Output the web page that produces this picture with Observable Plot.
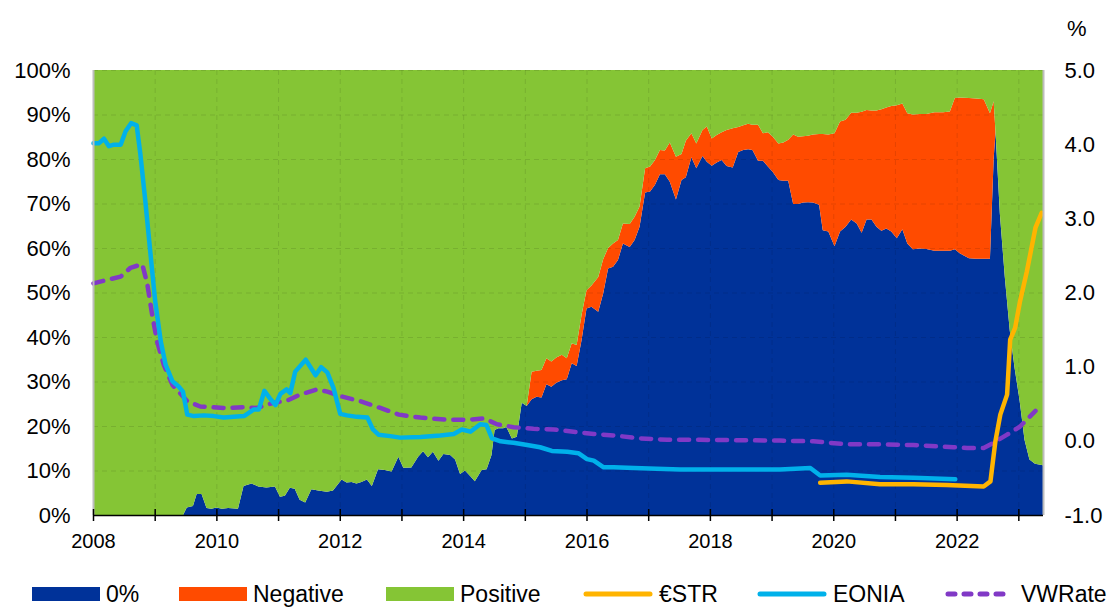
<!DOCTYPE html>
<html>
<head>
<meta charset="utf-8">
<script src="https://cdn.jsdelivr.net/npm/d3@7"></script>
<script src="https://cdn.jsdelivr.net/npm/@observablehq/plot@0.6"></script>
<style>
  html, body { margin: 0; padding: 0; background: #fff; }
  body { width: 1111px; height: 608px; overflow: hidden; position: relative; font-family: "Liberation Sans", Arial, sans-serif; }
  #chart { position: absolute; left: 0; top: 0; }
  #unit { position: absolute; left: 1067px; top: 16px; font-size: 22px; color: #000; }
  #legend { position: absolute; left: 0; top: 580px; width: 1111px; height: 28px; }
  .item { position: absolute; top: 0; height: 28px; display: flex; align-items: center; font-size: 23px; line-height: 26px; color: #000; white-space: nowrap; }
  .item svg { margin-right: 6px; }
</style>
</head>
<body>
<div id="chart"></div>
<div id="unit">%</div>
<div id="legend"></div>
<script>
// ---- Shares of transactions by rate sign (%), x as decimal year ----
const shareDates = [2008.00,2009.46,2009.52,2009.62,2009.68,2009.76,2009.84,2009.92,2010.00,2010.09,2010.19,2010.35,2010.44,2010.57,2010.68,2010.81,2010.95,2011.03,2011.11,2011.19,2011.27,2011.35,2011.44,2011.54,2011.65,2011.79,2011.89,2012.03,2012.11,2012.19,2012.27,2012.35,2012.44,2012.52,2012.62,2012.73,2012.84,2012.95,2013.03,2013.16,2013.27,2013.35,2013.43,2013.51,2013.60,2013.68,2013.79,2013.87,2013.95,2014.03,2014.11,2014.19,2014.30,2014.38,2014.46,2014.51,2014.57,2014.65,2014.70,2014.79,2014.87,2014.95,2015.03,2015.11,2015.19,2015.27,2015.35,2015.43,2015.51,2015.60,2015.68,2015.76,2015.84,2015.92,2016.00,2016.08,2016.19,2016.27,2016.35,2016.43,2016.51,2016.59,2016.70,2016.78,2016.86,2016.95,2017.03,2017.11,2017.19,2017.27,2017.35,2017.45,2017.54,2017.61,2017.70,2017.78,2017.88,2017.95,2018.03,2018.11,2018.19,2018.27,2018.37,2018.46,2018.54,2018.62,2018.69,2018.78,2018.86,2018.94,2019.02,2019.11,2019.19,2019.27,2019.35,2019.43,2019.51,2019.59,2019.67,2019.77,2019.83,2019.92,2020.02,2020.11,2020.20,2020.29,2020.38,2020.46,2020.54,2020.62,2020.70,2020.78,2020.86,2020.94,2021.03,2021.12,2021.20,2021.29,2021.40,2021.51,2021.64,2021.78,2021.89,2021.97,2022.05,2022.20,2022.32,2022.44,2022.54,2022.60,2022.63,2022.70,2022.78,2022.86,2022.94,2023.02,2023.10,2023.18,2023.27,2023.40];
const zeroShare = [0,0,1.7,2.0,4.7,4.7,1.6,1.4,1.7,1.4,1.6,1.4,6.5,7.1,6.4,6.2,6.4,4.1,4.3,6.1,5.9,3.4,2.8,5.8,5.5,5.2,5.5,8.0,7.3,7.4,7.1,7.4,8.0,6.5,10.3,10.1,9.8,13.1,10.6,10.7,13.1,14.3,13.0,14.2,12.2,13.7,13.5,12.5,9.2,10.0,8.8,7.6,10.1,10.3,13.5,19.1,19.5,19.5,19.8,17.2,17.6,25.2,24.5,26.0,26.6,26.4,29.4,28.8,29.7,30.3,30.5,34.1,33.5,39.3,46.4,46.8,45.7,49.8,55.4,55.8,57.3,61.0,60.2,61.8,64.8,72.5,72.7,74.2,76.6,76.6,74.9,70.9,75.3,75.9,80.4,77.9,80.7,79.4,78.5,79.2,79.8,78.4,78.1,81.6,82.0,82.2,82.0,79.6,79.6,78.3,77.1,75.3,75.1,75.1,69.9,69.9,70.2,70.3,70.2,69.7,64.0,63.7,60.4,63.7,64.8,66.4,65.5,63.4,66.4,66.4,64.8,63.9,64.4,63.7,62.2,64.2,61.0,59.7,59.9,59.8,59.4,59.4,59.4,59.7,58.8,57.7,57.6,57.6,57.6,80.0,86.1,67.8,53.6,41.6,33.0,25.8,16.9,12.5,11.5,11.2];
const negativeShare = [0,0,0,0,0,0,0,0,0,0,0,0,0,0,0,0,0,0,0,0,0,0,0,0,0,0,0,0,0,0,0,0,0,0,0,0,0,0,0,0,0,0,0,0,0,0,0,0,0,0,0,0,0,0,0,0,0,0,0,0,0,0,0,6.2,5.8,6.2,5.8,5.7,5.7,5.7,4.7,4.5,4.7,5.7,4.1,4.8,7.8,7.7,4.6,5.2,4.5,4.5,5.2,5.2,4.5,5.4,5.6,5.6,5.4,5.3,8.8,9.6,5.8,8.2,5.4,5.6,5.8,7.9,6.1,6.2,6.2,8.1,8.8,5.6,5.6,5.7,5.7,8.1,6.2,7.7,7.9,8.2,8.6,9.2,15.6,15.1,14.9,14.9,15.3,15.9,21.6,21.8,25.4,24.7,24.0,24.0,24.9,27.2,24.6,24.5,26.1,27.3,27.2,28.2,29.9,28.3,29.3,30.3,30.2,30.3,31.1,31.1,31.3,34.0,35.0,36.0,36.0,35.8,32.7,13.0,0,0,0,0,0,0,0,0,0,0];

// ---- Rates (%) ----
const eoniaDates = [2008.00,2008.09,2008.17,2008.25,2008.33,2008.44,2008.52,2008.61,2008.70,2008.76,2008.84,2008.92,2009.00,2009.09,2009.17,2009.28,2009.38,2009.45,2009.52,2009.63,2009.79,2009.95,2010.11,2010.27,2010.44,2010.60,2010.68,2010.77,2010.86,2010.95,2011.03,2011.13,2011.19,2011.27,2011.44,2011.60,2011.69,2011.79,2011.89,2012.00,2012.11,2012.27,2012.44,2012.53,2012.62,2012.81,2012.97,2013.30,2013.62,2013.84,2013.97,2014.11,2014.27,2014.37,2014.46,2014.60,2014.81,2015.03,2015.24,2015.43,2015.68,2015.86,2016.00,2016.11,2016.27,2016.43,2016.76,2017.13,2017.51,2019.13,2019.62,2019.78,2020.21,2020.75,2021.29,2021.97];
const eoniaRate = [4.02,4.02,4.08,3.98,4.00,4.00,4.18,4.29,4.26,3.87,3.24,2.56,1.89,1.35,1.03,0.81,0.74,0.67,0.36,0.34,0.35,0.34,0.32,0.33,0.34,0.43,0.43,0.68,0.58,0.49,0.64,0.70,0.65,0.94,1.10,0.89,1.00,0.93,0.72,0.37,0.35,0.33,0.32,0.16,0.09,0.07,0.05,0.06,0.08,0.10,0.16,0.13,0.23,0.22,0.04,0.00,-0.02,-0.05,-0.08,-0.13,-0.14,-0.16,-0.24,-0.26,-0.35,-0.35,-0.36,-0.37,-0.38,-0.38,-0.36,-0.46,-0.45,-0.48,-0.49,-0.51];
const estrDates = [2019.78,2020.21,2020.75,2021.29,2021.83,2022.43,2022.54,2022.62,2022.70,2022.81,2022.86,2022.94,2023.02,2023.13,2023.27,2023.37];
const estrRate = [-0.56,-0.54,-0.58,-0.58,-0.59,-0.61,-0.54,0.00,0.36,0.63,1.37,1.53,1.89,2.29,2.88,3.08];
const vwDates = [2008.00,2008.19,2008.44,2008.60,2008.79,2008.87,2008.95,2009.03,2009.14,2009.28,2009.38,2009.52,2009.73,2010.11,2010.44,2010.65,2010.92,2011.14,2011.35,2011.62,2011.79,2012.00,2012.33,2012.65,2012.95,2013.30,2013.73,2014.06,2014.33,2014.54,2014.81,2015.13,2015.46,2015.78,2016.11,2016.43,2016.86,2017.30,2017.84,2019.13,2019.67,2020.21,2020.75,2021.29,2021.73,2021.94,2022.16,2022.43,2022.59,2022.81,2023.02,2023.27];
const vwRate = [2.13,2.17,2.22,2.34,2.39,2.13,1.71,1.35,1.03,0.76,0.67,0.54,0.47,0.45,0.46,0.45,0.52,0.55,0.63,0.70,0.67,0.61,0.54,0.45,0.36,0.32,0.29,0.29,0.31,0.23,0.19,0.17,0.16,0.13,0.10,0.08,0.04,0.02,0.02,0.01,0.00,-0.04,-0.04,-0.05,-0.07,-0.08,-0.09,-0.09,-0.02,0.09,0.20,0.41];

// ---- Axes / labels ----
const seriesNames = ["0%", "Negative", "Positive"];
const seriesColors = ["#003299", "#FF4B00", "#85C535"];
const lineNames = ["€STR", "EONIA", "VWRate"];
const lineColors = ["#FFB400", "#00B1EA", "#8139C6"];
const pctTicks = [0,10,20,30,40,50,60,70,80,90,100];
const rateTicks = [-1,0,1,2,3,4,5];
const yearTicks = d3.range(2008, 2024);
const yearLabels = [2008,2010,2012,2014,2016,2018,2020,2022];
const xDomain = [2008, 2023.4];

const rateMin = -1, rateMax = 5;
const toLeft = r => (r - rateMin) / (rateMax - rateMin) * 100;
const toRate = p => { const v = Math.round((p / 100 * (rateMax - rateMin) + rateMin) * 10) / 10; return (v + 0).toFixed(1); };

const table = [];
shareDates.forEach((d, i) => {
  table.push({date: d, series: "0%", value: zeroShare[i]});
  table.push({date: d, series: "Negative", value: negativeShare[i]});
  table.push({date: d, series: "Positive", value: 100 - zeroShare[i] - negativeShare[i]});
});
const eonia = eoniaDates.map((d, i) => ({date: d, rate: eoniaRate[i]}));
const estr = estrDates.map((d, i) => ({date: d, rate: estrRate[i]}));
const vw = vwDates.map((d, i) => ({date: d, rate: vwRate[i]}));

const chart = Plot.plot({
  width: 1111,
  height: 570,
  marginLeft: 93,
  marginRight: 68,
  marginTop: 70,
  marginBottom: 55,
  style: {fontFamily: '"Liberation Sans", Arial, sans-serif', fontSize: "22px", color: "#000", background: "transparent", overflow: "visible"},
  x: {domain: xDomain},
  y: {domain: [0, 100]},
  color: {domain: seriesNames, range: seriesColors},
  marks: [
    Plot.areaY(table, {x: "date", y: "value", fill: "series", order: seriesNames}),
    Plot.gridY(pctTicks, {stroke: "#000", strokeOpacity: 0.1, strokeDasharray: "5,4", strokeWidth: 1}),
    Plot.gridX(yearTicks, {stroke: "#000", strokeOpacity: 0.1, strokeDasharray: "5,4", strokeWidth: 1}),
    Plot.line(vw, {x: "date", y: d => toLeft(d.rate), stroke: lineColors[2], strokeWidth: 4.5, strokeDasharray: "10,9", strokeLinecap: "round", strokeLinejoin: "round"}),
    Plot.line(eonia, {x: "date", y: d => toLeft(d.rate), stroke: lineColors[1], strokeWidth: 4.5, strokeLinejoin: "round", strokeLinecap: "round"}),
    Plot.line(estr, {x: "date", y: d => toLeft(d.rate), stroke: lineColors[0], strokeWidth: 4.5, strokeLinejoin: "round", strokeLinecap: "round"}),
    Plot.ruleX([xDomain[0], xDomain[1]], {stroke: "#bdbdbd", strokeWidth: 2}),
    Plot.ruleY([0], {stroke: "#000", strokeWidth: 1.5}),
    Plot.axisY(pctTicks, {anchor: "left", tickSize: 0, tickPadding: 23, tickFormat: d => d + "%", label: null, fontSize: 22}),
    Plot.axisY(rateTicks.map(toLeft), {anchor: "right", tickSize: 0, tickPadding: 21, tickFormat: toRate, label: null, fontSize: 22}),
    Plot.axisX(yearTicks, {tickSize: 12, dy: -6, tickFormat: () => "", label: null, stroke: "#000", strokeWidth: 1.5}),
    Plot.axisX(yearLabels, {tickSize: 0, tickPadding: 18, tickFormat: d => String(d), label: null, fontSize: 20})
  ]
});
document.getElementById("chart").appendChild(chart);

// ---- Legend ----
const legend = document.getElementById("legend");
const legendItems = [
  {name: seriesNames[0], color: seriesColors[0], kind: "box", left: 32},
  {name: seriesNames[1], color: seriesColors[1], kind: "box", left: 179},
  {name: seriesNames[2], color: seriesColors[2], kind: "box", left: 386},
  {name: lineNames[0], color: lineColors[0], kind: "line", left: 583},
  {name: lineNames[1], color: lineColors[1], kind: "line", left: 757},
  {name: lineNames[2], color: lineColors[2], kind: "dash", left: 945}
];
for (const it of legendItems) {
  const div = document.createElement("div");
  div.className = "item";
  div.style.left = it.left + "px";
  let sw;
  if (it.kind === "box") {
    sw = `<svg width="68" height="16"><rect x="0" y="1" width="68" height="14" fill="${it.color}"/></svg>`;
  } else if (it.kind === "line") {
    sw = `<svg width="70" height="16"><line x1="3" x2="67" y1="8" y2="8" stroke="${it.color}" stroke-width="5" stroke-linecap="round"/></svg>`;
  } else {
    sw = `<svg width="70" height="16"><line x1="3" x2="67" y1="8" y2="8" stroke="${it.color}" stroke-width="5" stroke-linecap="round" stroke-dasharray="7,9"/></svg>`;
  }
  div.innerHTML = sw + `<span>${it.name}</span>`;
  legend.appendChild(div);
}
</script>
</body>
</html>
